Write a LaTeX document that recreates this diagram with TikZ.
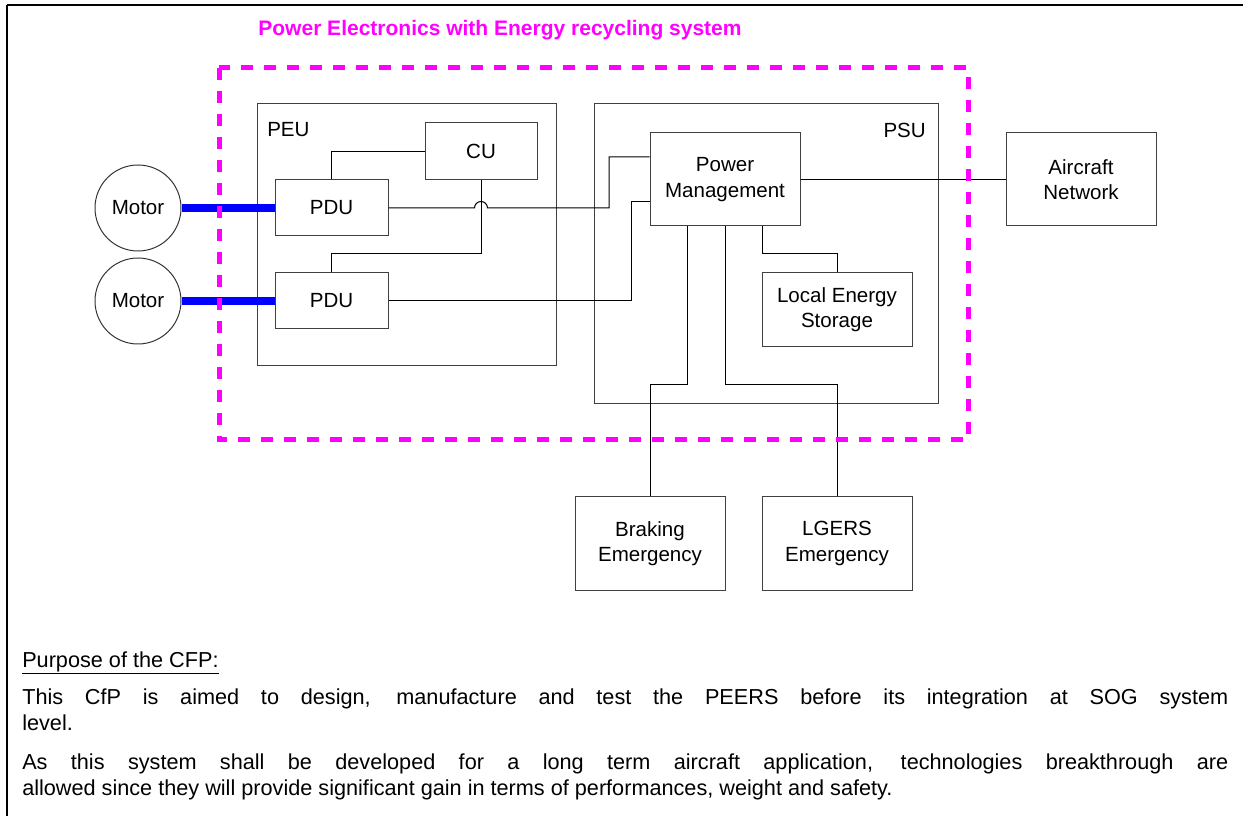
\documentclass[tikz,border=0pt]{standalone}
\usepackage{fontspec}
\setmainfont{Liberation Sans}
\usetikzlibrary{calc}
\definecolor{pinkline}{RGB}{255,0,255}
\definecolor{busblue}{RGB}{0,0,255}
\begin{document}
\begin{tikzpicture}[x=0.75pt, y=-0.75pt,
  every node/.style={font=\fontsize{15.4}{18.9}\selectfont},
  unit/.style={draw=black!75, line width=0.75pt, inner sep=0pt, align=center, fill=white},
  bigunit/.style={unit, minimum width=112.5pt, minimum height=69.75pt},
  pdubox/.style={unit, minimum width=84.75pt, minimum height=42pt},
  motorcirc/.style={draw=black!80, line width=0.75pt, circle, inner sep=0pt, minimum size=64.5pt},
  wire/.style={draw=black, line width=0.75pt},
  bus/.style={draw=busblue, line width=5.6pt},
  zone/.style={draw=pinkline, line width=3.75pt, dash pattern=on 9pt off 8.25pt},
  bodytext/.style={font=\fontsize{16.25}{19.5}\selectfont, inner sep=0pt, anchor=base west}
]
\useasboundingbox (0,0) rectangle (1243,816);

% outer frame (top and left rules)
\draw[line width=1.6pt] (7,5) -- (1243,5);
\draw[line width=1.6pt] (7,5) -- (7,816);

% title
\node[text=pinkline, font=\fontsize{15.75}{19}\selectfont\bfseries] (title) at (500,30) {Power Electronics with Energy recycling system};

% container units
\node[unit, minimum width=224.25pt, minimum height=196.5pt] (peu) at (406.5,235) {};
\node[anchor=west, inner sep=0pt] (peulbl) at (267,130) {PEU};
\node[unit, minimum width=258pt, minimum height=225pt] (psu) at (766,254) {};
\node[anchor=east, inner sep=0pt] (psulbl) at (926,130) {PSU};

% inner blocks
\node[unit, minimum width=84pt, minimum height=42.75pt] (cu) at (481,151.5) {CU};
\node[pdubox] (pdu1) at (331.5,208) {PDU};
\node[pdubox] (pdu2) at (331.5,301) {PDU};
\node[bigunit] (pm) at (725,179.5) {Power\\Management};
\node[bigunit] (an) at (1081,179.5) {Aircraft\\Network};
\node[unit, minimum width=112.5pt, minimum height=55.5pt] (les) at (837,310) {Local Energy\\Storage};
\node[bigunit] (be) at (650,543.5) {Braking\\Emergency};
\node[bigunit] (lg) at (837,543.5) {LGERS\\Emergency};

% motors
\node[motorcirc] (m1) at (138,208) {Motor};
\node[motorcirc] (m2) at (138,301) {Motor};

% control links
\coordinate (cuj) at (331.5,254);
\draw[wire] (cu.west) -| (pdu1.north);
\draw[wire] (cu.south) |- (cuj) -- (pdu2.north);

% power links to power management
\coordinate (k1) at (609,157);
\coordinate (k2) at (631,202);
\draw[wire] (pdu1.east) -- ([xshift=-4.875pt]pdu1.east -| cu.south)
  arc[start angle=180, end angle=0, radius=4.875pt]
  -- (pdu1.east -| k1) -- (k1) -- (k1 -| pm.west);
\draw[wire] (pdu2.east) -- (pdu2.east -| k2) -- (k2) -- (k2 -| pm.west);

% network and storage
\draw[wire] (pm.east) -- (an.west);
\coordinate (s1) at (762,254);
\draw[wire] (s1 |- pm.south) -- (s1) -| (les.north);

% emergency branches
\coordinate (e1) at (687,385);
\coordinate (e2) at (725,385);
\draw[wire] (e1 |- pm.south) -- (e1) -| (be.north);
\draw[wire] (e2 |- pm.south) -- (e2) -| (lg.north);

% motor buses
\draw[bus] (m1.east) -- (pdu1.west);
\draw[bus] (m2.east) -- (pdu2.west);

% recycling system boundary
\draw[zone] (219,68) rectangle (968,440);

% description
\node[bodytext] (purpose) at (22,667) {\underline{Purpose of the CFP:}};
\node[bodytext] (p1a) at (22,704) {\makebox[904.5pt][s]{This CfP is aimed to design, manufacture and test the PEERS before its integration at SOG system}};
\node[bodytext] (p1b) at (22,730) {level.};
\node[bodytext] (p2a) at (22,769) {\makebox[904.5pt][s]{As this system shall be developed for a long term aircraft application, technologies breakthrough are}};
\node[bodytext] (p2b) at (22,795) {allowed since they will provide significant gain in terms of performances, weight and safety.};
\end{tikzpicture}
\end{document}
